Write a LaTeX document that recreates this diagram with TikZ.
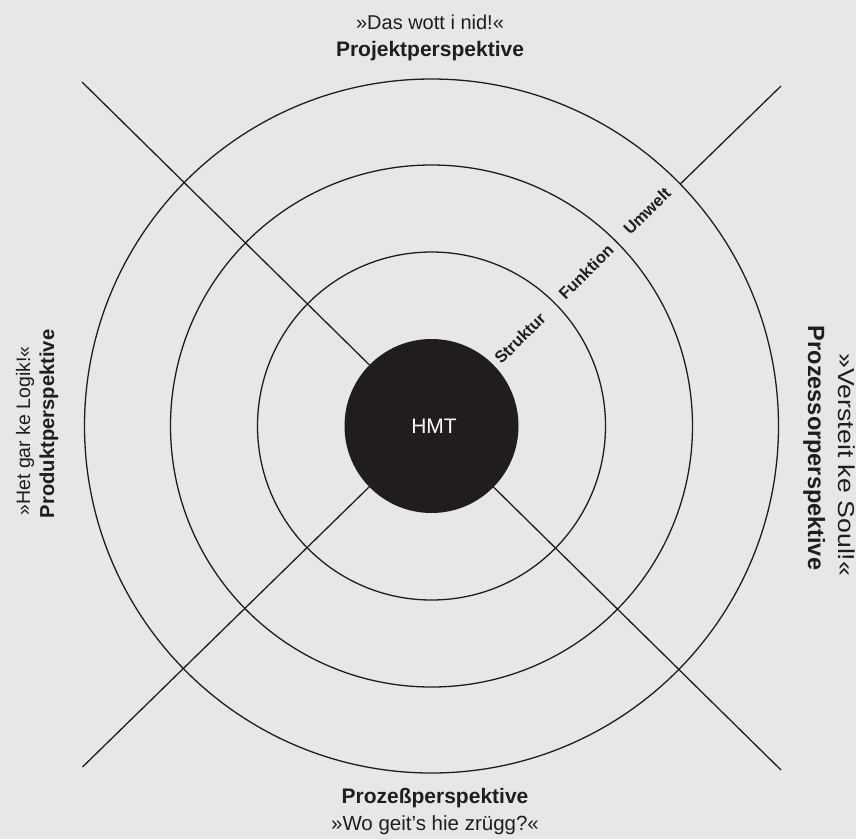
\documentclass[tikz,border=0pt]{standalone}
\usepackage{fontspec}
\usepackage{graphicx}
\setmainfont{Liberation Sans}
\definecolor{paper}{RGB}{231,231,229}
\definecolor{ink}{RGB}{33,29,29}
\begin{document}
\begin{tikzpicture}[x=1pt,y=-1pt,
  ringline/.style={circle,draw=ink,line width=1.3pt,inner sep=0pt,outer sep=0pt},
  axisline/.style={draw=ink,line width=1.3pt},
  txt/.style={inner sep=0pt,outer sep=0pt,text=ink},
  quotefont/.style={font=\fontsize{20}{20}\selectfont},
  boldfont/.style={font=\bfseries\fontsize{21}{21}\selectfont},
  ringlabel/.style={txt,rotate=45,font=\bfseries\fontsize{16.5}{16.5}\selectfont}]
\fill[paper] (0,0) rectangle (856,839);
\useasboundingbox (0,0) rectangle (856,839);
\coordinate (c) at (431.5,426);
\coordinate (tl) at (82,82);
\coordinate (br) at (781,770);
\coordinate (tr) at (781,86);
\coordinate (bl) at (82.5,767);
% rings
\node[ringline,minimum size=694pt] (outer) at (c) {};
\node[ringline,minimum size=522pt] (middle) at (c) {};
\node[ringline,minimum size=348pt] (inner) at (c) {};
\node[circle,fill=ink,inner sep=0pt,outer sep=0pt,minimum size=174pt] (core) at (c) {};
% axes
\draw[axisline] (tl) -- (core);
\draw[axisline] (br) -- (core);
\draw[axisline] (bl) -- (core);
\draw[axisline] (tr) -- (outer);
% centre
\node[inner sep=0pt,text=white,font=\fontsize{21}{21}\selectfont] (hmtlabel) at (434,426) {HMT};
% ring labels
\node[ringlabel] (struktur) at (520,338) {Struktur};
\node[ringlabel] (funktion) at (586,272) {Funktion};
\node[ringlabel] (umwelt) at (647,211) {Umwelt};
% top
\node[txt,quotefont,anchor=base] (topq) at (430,29) {»Das wott i nid!«};
\node[txt,boldfont,anchor=base] (topb) at (430,56.5) {Projektperspektive};
% bottom
\node[txt,boldfont,anchor=base] (botb) at (435,803) {Prozeßperspektive};
\node[txt,anchor=base,font=\fontsize{20.5}{20.5}\selectfont] (botq) at (435,830) {»Wo geit’s hie zrügg?«};
% left
\node[txt,anchor=base,rotate=90,font=\fontsize{19.5}{19.5}\selectfont] (leftq) at (30,431) {»Het gar ke Logik!«};
\node[txt,anchor=base,rotate=90,font=\bfseries\fontsize{20.2}{20.2}\selectfont] (leftb) at (54,424) {Produktperspektive};
% right
\node[txt,anchor=base,rotate=-90,font=\fontsize{23}{23}\selectfont] (rightq) at (838,465) {\scalebox{1.16}[1]{»Versteit ke Soul!«}};
\node[txt,anchor=base,rotate=-90,font=\bfseries\fontsize{23.5}{23.5}\selectfont] (rightb) at (808,448) {Prozessorperspektive};
\end{tikzpicture}
\end{document}
